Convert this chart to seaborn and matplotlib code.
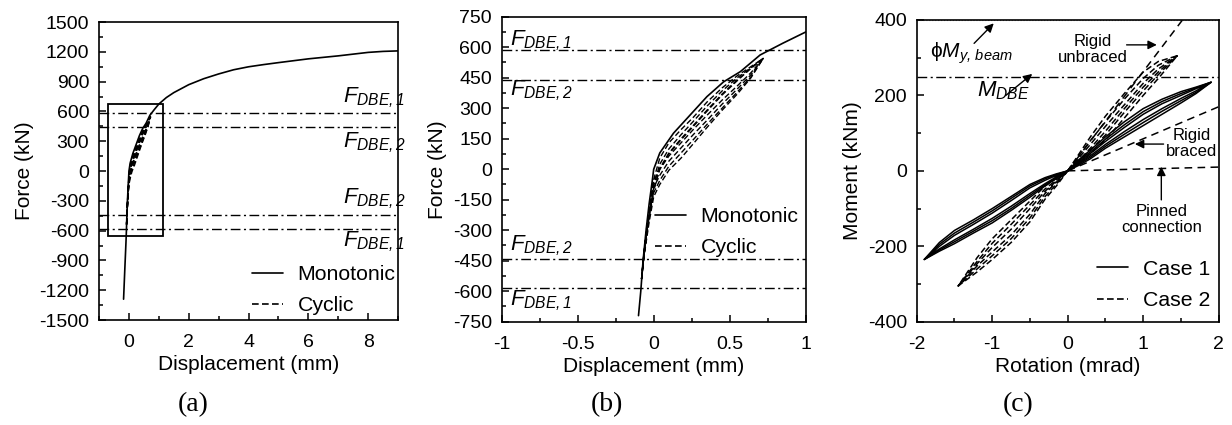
import matplotlib
matplotlib.use('Agg')
import matplotlib.pyplot as plt
import seaborn as sns
from matplotlib.lines import Line2D
from matplotlib.patches import Rectangle
from matplotlib.ticker import MultipleLocator

# monotonic push-over curve (force vs displacement)
mono_disp = [-0.18, -0.14, -0.10, -0.085, -0.07, -0.05, -0.03, -0.01, 0.0, 0.04, 0.13, 0.24,
             0.35, 0.46, 0.57, 0.70, 0.85, 1.0, 1.25, 1.5, 2.0, 2.5, 3.0, 3.5, 4.0, 4.5, 5.0,
             6.0, 7.0, 8.0, 8.5, 9.0]
mono_force = [-1290, -1000, -720, -600, -450, -300, -170, -60, 0, 80, 177, 267,
              357, 430, 480, 562, 620, 675, 740, 790, 870, 930, 978, 1020, 1050, 1072, 1092,
              1130, 1160, 1195, 1205, 1210]

# cyclic loops: loading branch / unloading branch
cyc_up_x = [-0.08, -0.065, -0.045, -0.02, 0.0, 0.04, 0.10, 0.18, 0.26, 0.35, 0.45, 0.55, 0.64, 0.72]
cyc_dn_x = [0.72, 0.64, 0.55, 0.45, 0.35, 0.26, 0.18, 0.10, 0.04, 0.0, -0.03, -0.06, -0.08]
cyc_up_y = [
    [-540, -420, -280, -140, -50, 55, 130, 195, 255, 330, 400, 460, 505, 545],
    [-540, -425, -290, -160, -80, 25, 100, 170, 235, 310, 385, 450, 500, 545],
    [-540, -430, -300, -180, -100, 5, 80, 150, 215, 290, 370, 440, 498, 545],
    [-540, -432, -305, -185, -105, 0, 75, 145, 210, 285, 365, 436, 496, 545],
]
cyc_dn_y = [
    [545, 475, 410, 340, 265, 195, 130, 65, 0, -60, -200, -380, -540],
    [545, 465, 395, 320, 240, 170, 105, 40, -30, -90, -220, -390, -540],
    [545, 455, 380, 300, 220, 145, 80, 15, -55, -115, -240, -400, -540],
    [545, 450, 370, 290, 205, 125, 55, -5, -75, -135, -260, -410, -540],
]

f_dbe1 = 585
f_dbe2 = 440

# moment-rotation loops, panel (c)
c1_pos_x = [0, 0.15, 0.3, 0.5, 0.75, 1.0, 1.25, 1.5, 1.7, 1.9]
c1_neg_x = [0, -0.15, -0.3, -0.5, -0.75, -1.0, -1.25, -1.5, -1.7, -1.9]
c1_pos_a = [[0, 30, 55, 90, 130, 165, 190, 210, 222, 235],
            [0, 27, 50, 84, 122, 157, 184, 205, 220, 235],
            [0, 24, 46, 78, 115, 150, 178, 200, 218, 235]]
c1_pos_b = [[0, 15, 32, 60, 90, 120, 150, 180, 205, 235],
            [0, 18, 36, 65, 97, 128, 158, 186, 208, 235],
            [0, 20, 40, 70, 104, 136, 165, 192, 212, 235]]
c1_neg_a = [[0, -20, -40, -70, -105, -138, -165, -193, -213, -235],
            [0, -18, -37, -65, -100, -132, -160, -188, -210, -235],
            [0, -16, -34, -60, -94, -126, -155, -183, -207, -235]]
c1_neg_b = [[0, -8, -18, -36, -68, -100, -130, -158, -190, -235],
            [0, -10, -21, -40, -73, -106, -136, -165, -195, -235],
            [0, -12, -25, -45, -79, -112, -142, -171, -200, -235]]

c2_pos_x = [0, 0.15, 0.3, 0.5, 0.75, 1.0, 1.2, 1.45]
c2_neg_x = [0, -0.15, -0.3, -0.5, -0.75, -1.0, -1.2, -1.45]
c2_pos_a = [[0, 45, 90, 145, 205, 262, 290, 305],
            [0, 40, 80, 130, 190, 245, 280, 305],
            [0, 35, 70, 118, 175, 232, 270, 305]]
c2_pos_b = [[0, 20, 45, 82, 140, 200, 245, 305],
            [0, 25, 55, 95, 155, 212, 255, 305],
            [0, 28, 60, 105, 165, 222, 262, 305]]
c2_neg_a = [[0, -40, -75, -135, -190, -235, -268, -305],
            [0, -35, -68, -125, -180, -225, -260, -305],
            [0, -30, -60, -115, -170, -215, -252, -305]]
c2_neg_b = [[0, -20, -40, -80, -130, -180, -230, -305],
            [0, -24, -48, -90, -142, -192, -240, -305],
            [0, -27, -54, -100, -155, -203, -246, -305]]

m_dbe = 250
m_y_beam = 400
unbraced_x, unbraced_y = [0, 1.52], [0, 400]
braced_x, braced_y = [0, 2.0], [0, 170]
pinned_x, pinned_y = [0, 2.0], [0, 10]

sns.set_style('ticks')
plt.rcParams['font.family'] = ['Liberation Sans', 'DejaVu Sans']
plt.rcParams['mathtext.fontset'] = 'custom'
plt.rcParams['mathtext.it'] = 'Liberation Sans:italic'
plt.rcParams['mathtext.rm'] = 'Liberation Sans:italic'
plt.rcParams['mathtext.sf'] = 'Liberation Sans'
plt.rcParams['axes.unicode_minus'] = False
plt.rcParams['axes.edgecolor'] = 'black'
plt.rcParams['axes.linewidth'] = 1.2
plt.rcParams['xtick.color'] = 'black'
plt.rcParams['ytick.color'] = 'black'
plt.rcParams['text.color'] = 'black'
plt.rcParams['axes.labelcolor'] = 'black'

DASHDOT = (0, (7, 2.5, 1.5, 2.5))
DASHED = (0, (4, 2))
TICK_FS = 14
LABEL_FS = 15
LEG_FS = 15.3

fig = plt.figure(figsize=(12.32, 4.25), dpi=100)
ax_a = fig.add_axes([0.0804, 0.247, 0.2427, 0.701])
ax_b = fig.add_axes([0.4072, 0.243, 0.2468, 0.7176])
ax_c = fig.add_axes([0.7441, 0.243, 0.2451, 0.71])


def style_axes(ax, xmaj, xmin, ymaj, ymin):
    ax.xaxis.set_major_locator(MultipleLocator(xmaj))
    ax.xaxis.set_minor_locator(MultipleLocator(xmin))
    ax.yaxis.set_major_locator(MultipleLocator(ymaj))
    ax.yaxis.set_minor_locator(MultipleLocator(ymin))
    ax.tick_params(which='both', direction='in', width=1.1, labelsize=TICK_FS)
    ax.tick_params(axis='y', pad=7)
    ax.tick_params(axis='x', pad=10)
    ax.tick_params(which='major', length=5)
    ax.tick_params(which='minor', length=3)
    for sp in ax.spines.values():
        sp.set_visible(True)
        sp.set_color('black')


def draw_force_panel(ax, start=0):
    sns.lineplot(x=mono_disp[start:], y=mono_force[start:], sort=False, estimator=None,
                 color='black', lw=1.2, ax=ax)
    for up, dn in zip(cyc_up_y, cyc_dn_y):
        sns.lineplot(x=cyc_up_x + cyc_dn_x, y=up + dn, sort=False, estimator=None,
                     color='black', lw=1.0, ax=ax, linestyle=DASHED)
    for v in (f_dbe1, f_dbe2, -f_dbe2, -f_dbe1):
        ax.axhline(v, color='black', lw=1.0, linestyle=DASHDOT)


def dbe(ax, x, y, idx):
    ax.text(x, y, r'$F_{DBE,%d}$' % idx, fontsize=16, ha='left', va='baseline')


def add_legend(ax, labels, x, y):
    handles = [Line2D([], [], color='black', lw=1.2),
               Line2D([], [], color='black', lw=1.2, linestyle=DASHED)]
    ax.legend(handles, labels, loc='upper left', bbox_to_anchor=(x, y), borderaxespad=0,
              frameon=False, fontsize=LEG_FS, handlelength=1.45, labelspacing=0.58,
              handletextpad=0.7)


# (a)
draw_force_panel(ax_a)
ax_a.add_patch(Rectangle((-0.7, -650), 1.83, 1325, fill=False, lw=1.3, ec='black'))
ax_a.set_xlim(-1, 9)
ax_a.set_ylim(-1500, 1500)
style_axes(ax_a, 2, 1, 300, 150)
ax_a.set_xlabel('Displacement (mm)', fontsize=LABEL_FS, labelpad=3)
ax_a.set_ylabel('Force (kN)', fontsize=LABEL_FS, labelpad=4)
dbe(ax_a, 7.17, 695, 1)
dbe(ax_a, 7.17, 243, 2)
dbe(ax_a, 7.17, -327, 2)
dbe(ax_a, 7.17, -763, 1)
add_legend(ax_a, ['Monotonic', 'Cyclic'], 0.483, 0.213)

# (b) zoom of the boxed region; the monotonic trace here starts at -720 kN
draw_force_panel(ax_b, start=2)
ax_b.set_xlim(-1, 1)
ax_b.set_ylim(-750, 750)
style_axes(ax_b, 0.5, 0.25, 150, 75)
ax_b.xaxis.set_major_formatter(plt.FuncFormatter(lambda v, p: '%g' % v))
ax_b.set_xlabel('Displacement (mm)', fontsize=LABEL_FS, labelpad=3)
ax_b.set_ylabel('Force (kN)', fontsize=LABEL_FS, labelpad=4)
dbe(ax_b, -0.944, 610, 1)
dbe(ax_b, -0.944, 364, 2)
dbe(ax_b, -0.944, -398, 2)
dbe(ax_b, -0.944, -669, 1)
add_legend(ax_b, ['Monotonic', 'Cyclic'], 0.476, 0.404)

# (c)
for pa, pb, na, nb in zip(c1_pos_a, c1_pos_b, c1_neg_a, c1_neg_b):
    sns.lineplot(x=c1_pos_x + c1_pos_x[::-1] + c1_neg_x + c1_neg_x[::-1],
                 y=pa + pb[::-1] + na + nb[::-1], sort=False, estimator=None,
                 color='black', lw=1.1, ax=ax_c)
for pa, pb, na, nb in zip(c2_pos_a, c2_pos_b, c2_neg_a, c2_neg_b):
    sns.lineplot(x=c2_pos_x + c2_pos_x[::-1] + c2_neg_x + c2_neg_x[::-1],
                 y=pa + pb[::-1] + na + nb[::-1], sort=False, estimator=None,
                 color='black', lw=1.1, ax=ax_c, linestyle=DASHED)
for xs, ys in ((unbraced_x, unbraced_y), (braced_x, braced_y), (pinned_x, pinned_y)):
    sns.lineplot(x=xs, y=ys, sort=False, estimator=None, color='black', lw=1.1,
                 ax=ax_c, linestyle=(0, (5, 3.5)))
ax_c.axhline(m_dbe, color='black', lw=1.0, linestyle=DASHDOT)
ax_c.axhline(m_y_beam, color='0.5', lw=0.8, linestyle=':')
ax_c.set_xlim(-2, 2)
ax_c.set_ylim(-400, 400)
style_axes(ax_c, 1, 0.5, 200, 100)
ax_c.set_xlabel('Rotation (mrad)', fontsize=LABEL_FS, labelpad=3)
ax_c.set_ylabel('Moment (kNm)', fontsize=LABEL_FS, labelpad=4)

arrow = dict(arrowstyle='-|>', color='black', lw=1.0, mutation_scale=13, shrinkA=0, shrinkB=0)
ax_c.text(-1.82, 300, 'ϕ$M_{y,\\,beam}$', fontsize=15, ha='left', va='baseline')
ax_c.annotate('', xy=(-0.98, 391), xytext=(-1.24, 338), arrowprops=arrow)
ax_c.text(-1.2, 197, r'$M_{DBE}$', fontsize=16, ha='left', va='baseline')
ax_c.annotate('', xy=(-0.47, 257), xytext=(-0.82, 200), arrowprops=arrow)
ax_c.text(0.33, 322, 'Rigid\nunbraced', fontsize=12, ha='center', va='center', linespacing=1.1)
ax_c.annotate('', xy=(1.18, 334), xytext=(0.78, 334), arrowprops=arrow)
ax_c.text(1.64, 73, 'Rigid\nbraced', fontsize=12, ha='center', va='center', linespacing=1.1)
ax_c.annotate('', xy=(0.89, 71), xytext=(1.27, 71), arrowprops=arrow)
ax_c.text(1.24, -128, 'Pinned\nconnection', fontsize=12, ha='center', va='center', linespacing=1.1)
ax_c.annotate('', xy=(1.24, 11), xytext=(1.24, -77), arrowprops=arrow)
add_legend(ax_c, ['Case 1', 'Case 2'], 0.569, 0.233)

for label, xc in (('(a)', 193), ('(b)', 607), ('(c)', 1018)):
    fig.text(xc / 1232, 1 - 405 / 425, label, fontsize=20, family='Liberation Serif',
             ha='center', va='center')

fig.savefig('out.png', dpi=100)
